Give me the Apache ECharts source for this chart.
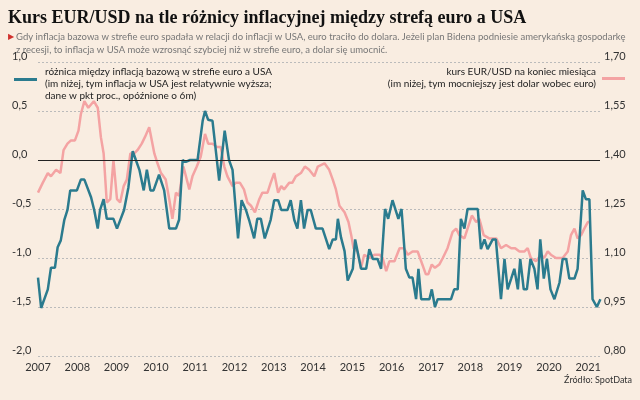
<!DOCTYPE html>
<html><head><meta charset="utf-8">
<script src="https://cdn.jsdelivr.net/npm/echarts@6/dist/echarts.min.js"></script>
<style>html,body{margin:0;background:#f9ede1}#c{width:640px;height:400px}</style>
</head><body><div id="c"></div>
<script>
// różnica inflacji bazowej EA-USA (lewa oś), [rok, wartość]
var inflDiff = [[2007.0,-1.2],[2007.08,-1.51],[2007.25,-1.32],[2007.33,-1.1],[2007.43,-1.1],[2007.5,-0.89],[2007.58,-0.82],[2007.67,-0.61],[2007.75,-0.51],[2007.82,-0.31],[2007.99,-0.31],[2008.09,-0.2],[2008.18,-0.2],[2008.35,-0.38],[2008.43,-0.51],[2008.52,-0.7],[2008.58,-0.51],[2008.67,-0.4],[2008.75,-0.6],[2008.92,-0.6],[2009.01,-0.7],[2009.19,-0.51],[2009.3,-0.28],[2009.41,0.09],[2009.49,0.0],[2009.58,-0.1],[2009.69,-0.31],[2009.77,-0.1],[2009.86,-0.31],[2009.94,-0.31],[2010.08,-0.15],[2010.21,-0.31],[2010.34,-0.7],[2010.51,-0.7],[2010.59,-0.61],[2010.68,0.0],[2010.76,-0.02],[2010.87,0.0],[2011.06,0.0],[2011.19,0.4],[2011.25,0.5],[2011.33,0.41],[2011.44,0.4],[2011.61,-0.21],[2011.75,0.3],[2011.86,0.0],[2011.95,-0.1],[2012.09,-0.8],[2012.18,-0.41],[2012.29,-0.51],[2012.37,-0.61],[2012.5,-0.8],[2012.58,-0.6],[2012.67,-0.6],[2012.77,-0.8],[2012.92,-0.61],[2013.01,-0.41],[2013.11,-0.41],[2013.19,-0.51],[2013.35,-0.51],[2013.43,-0.41],[2013.52,-0.61],[2013.6,-0.7],[2013.69,-0.41],[2013.77,-0.7],[2013.86,-0.51],[2013.94,-0.51],[2014.07,-0.7],[2014.24,-0.7],[2014.33,-0.81],[2014.41,-0.91],[2014.5,-0.81],[2014.58,-0.81],[2014.63,-0.6],[2014.71,-0.79],[2014.8,-0.93],[2014.88,-1.23],[2015.01,-1.11],[2015.07,-0.81],[2015.13,-0.93],[2015.22,-1.11],[2015.35,-1.11],[2015.43,-0.91],[2015.52,-1.01],[2015.64,-1.01],[2015.73,-1.11],[2015.83,-0.5],[2015.91,-0.6],[2016.02,-0.41],[2016.17,-0.6],[2016.25,-0.5],[2016.36,-1.11],[2016.45,-1.2],[2016.53,-1.2],[2016.62,-1.42],[2016.68,-1.11],[2016.75,-1.42],[2016.96,-1.42],[2017.02,-1.32],[2017.1,-1.5],[2017.17,-1.42],[2017.51,-1.42],[2017.59,-1.32],[2017.68,-1.32],[2017.76,-0.6],[2017.85,-0.7],[2017.93,-0.5],[2018.19,-0.5],[2018.27,-0.91],[2018.36,-0.81],[2018.44,-0.91],[2018.57,-0.81],[2018.65,-0.81],[2018.78,-1.42],[2018.87,-1.01],[2018.95,-1.32],[2019.04,-1.21],[2019.12,-1.11],[2019.21,-1.32],[2019.27,-1.01],[2019.36,-1.32],[2019.44,-1.32],[2019.53,-1.01],[2019.63,-1.11],[2019.71,-1.32],[2019.78,-0.81],[2019.87,-1.21],[2019.95,-1.01],[2020.04,-1.32],[2020.14,-1.42],[2020.27,-1.25],[2020.35,-1.01],[2020.44,-1.01],[2020.52,-1.21],[2020.65,-1.21],[2020.73,-1.11],[2020.86,-0.31],[2020.94,-0.4],[2021.03,-0.4],[2021.11,-1.42],[2021.22,-1.5],[2021.31,-1.42]];
// kurs EUR/USD na koniec miesiąca (prawa oś)
var eurusd = [[2007.0,1.30],[2007.12,1.33],[2007.25,1.36],[2007.33,1.35],[2007.46,1.37],[2007.57,1.36],[2007.65,1.43],[2007.75,1.45],[2007.84,1.46],[2007.94,1.46],[2008.03,1.49],[2008.09,1.54],[2008.18,1.58],[2008.28,1.56],[2008.42,1.58],[2008.52,1.56],[2008.6,1.47],[2008.67,1.42],[2008.75,1.27],[2008.84,1.28],[2008.92,1.40],[2009.01,1.28],[2009.09,1.27],[2009.18,1.32],[2009.26,1.34],[2009.35,1.42],[2009.45,1.42],[2009.53,1.43],[2009.64,1.45],[2009.72,1.47],[2009.83,1.50],[2009.96,1.42],[2010.04,1.39],[2010.13,1.36],[2010.25,1.34],[2010.34,1.28],[2010.42,1.22],[2010.51,1.30],[2010.59,1.29],[2010.7,1.38],[2010.85,1.31],[2010.93,1.35],[2011.04,1.38],[2011.14,1.41],[2011.25,1.48],[2011.33,1.45],[2011.44,1.45],[2011.55,1.44],[2011.65,1.44],[2011.74,1.38],[2011.82,1.35],[2011.95,1.32],[2012.03,1.33],[2012.14,1.33],[2012.24,1.31],[2012.33,1.27],[2012.42,1.26],[2012.52,1.24],[2012.63,1.28],[2012.71,1.30],[2012.84,1.30],[2012.92,1.33],[2013.01,1.36],[2013.11,1.30],[2013.19,1.32],[2013.26,1.31],[2013.39,1.33],[2013.47,1.33],[2013.56,1.35],[2013.69,1.36],[2013.79,1.38],[2013.9,1.37],[2014.03,1.35],[2014.12,1.38],[2014.29,1.39],[2014.41,1.37],[2014.5,1.34],[2014.58,1.31],[2014.67,1.26],[2014.8,1.24],[2014.9,1.21],[2014.97,1.17],[2015.03,1.13],[2015.13,1.12],[2015.22,1.07],[2015.30,1.11],[2015.43,1.10],[2015.56,1.11],[2015.69,1.11],[2015.77,1.10],[2015.86,1.06],[2015.94,1.09],[2016.07,1.09],[2016.2,1.13],[2016.31,1.13],[2016.41,1.11],[2016.53,1.12],[2016.66,1.12],[2016.75,1.09],[2016.87,1.05],[2016.93,1.05],[2017.02,1.08],[2017.1,1.07],[2017.21,1.08],[2017.3,1.10],[2017.42,1.13],[2017.55,1.18],[2017.64,1.19],[2017.72,1.17],[2017.85,1.16],[2017.93,1.19],[2018.04,1.23],[2018.15,1.21],[2018.23,1.22],[2018.34,1.17],[2018.48,1.16],[2018.66,1.16],[2018.78,1.13],[2018.91,1.14],[2019.04,1.13],[2019.14,1.13],[2019.25,1.12],[2019.38,1.12],[2019.46,1.13],[2019.54,1.10],[2019.67,1.09],[2019.8,1.11],[2019.88,1.10],[2019.97,1.12],[2020.05,1.11],[2020.18,1.10],[2020.35,1.10],[2020.48,1.12],[2020.56,1.17],[2020.65,1.19],[2020.73,1.16],[2020.82,1.17],[2020.9,1.19],[2020.99,1.21],[2021.06,1.21]];
var yearTicks = [2007,2008,2009,2010,2011,2012,2013,2014,2015,2016,2017,2018,2019,2020,2021];

var chart = echarts.init(document.getElementById('c'));
var fmt = function(d){ return function(v){ return v.toFixed(d).replace('.', ','); }; };
chart.setOption({
  backgroundColor: '#f9ede1',
  animation: false,
  textStyle: {fontFamily: 'Lato'},
  grid: {left: 38, right: 40, top: 62, bottom: 44},
  xAxis: {
    type: 'value', min: 2007, max: 2021.3, interval: 1,
    axisLine: {show: false}, axisTick: {show: false}, splitLine: {show: false},
    axisLabel: {color: '#333', fontSize: 11, margin: 6, showMaxLabel: false,
      formatter: function(v){ return yearTicks.indexOf(v) >= 0 ? String(v) : ''; }}
  },
  yAxis: [
    {type: 'value', min: -2, max: 1, interval: 0.5,
     axisLabel: {color: '#333', fontSize: 11, formatter: fmt(1), align: 'left', margin: 26, verticalAlign: 'bottom'},
     axisLine: {show: false}, axisTick: {show: false},
     splitLine: {lineStyle: {color: '#bbb', type: [2, 2]}}},
    {type: 'value', min: 0.8, max: 1.7, interval: 0.15, position: 'right',
     axisLabel: {color: '#333', fontSize: 11, formatter: fmt(2), margin: 4, verticalAlign: 'bottom'},
     axisLine: {show: false}, axisTick: {show: false}, splitLine: {show: false}}
  ],
  series: [
    {type: 'line', data: eurusd, yAxisIndex: 1, showSymbol: false,
     lineStyle: {color: '#f4a3a3', width: 2.5}, z: 2},
    {type: 'line', data: inflDiff, yAxisIndex: 0, showSymbol: false,
     lineStyle: {color: '#2b7b8e', width: 2.5}, z: 3,
     markLine: {silent: true, symbol: 'none', label: {show: false},
       lineStyle: {color: '#222', type: 'solid', width: 1}, data: [{yAxis: 0}]}}
  ],
  graphic: [
    {type: 'text', left: 8, top: 9, style: {text: 'Kurs EUR/USD na tle różnicy inflacyjnej między strefą euro a USA',
      font: 'bold 18px "Liberation Serif"', fill: '#111'}},
    {type: 'text', left: 8, top: 32, style: {text: '▶', font: '8px Lato', fill: '#d0312d'}},
    {type: 'text', left: 16, top: 30, style: {text: 'Gdy inflacja bazowa w strefie euro spadała w relacji do inflacji w USA, euro traciło do dolara. Jeżeli plan Bidena podniesie amerykańską gospodarkę\nz recesji, to inflacja w USA może wzrosnąć szybciej niż w strefie euro, a dolar się umocnić.',
      font: '9.5px Lato', fill: '#777', lineHeight: 13}},
    {type: 'rect', shape: {x: 14, y: 78, width: 23, height: 3}, style: {fill: '#2b7b8e'}},
    {type: 'text', left: 45, top: 66, style: {text: 'różnica między inflacją bazową w strefie euro a USA\n(im niżej, tym inflacja w USA jest relatywnie wyższa;\ndane w pkt proc., opóźnione o 6m)',
      font: '10px Lato', fill: '#222', lineHeight: 12}},
    {type: 'text', x: 596, y: 66, style: {text: 'kurs EUR/USD na koniec miesiąca\n(im niżej, tym mocniejszy jest dolar wobec euro)',
      font: '10px Lato', fill: '#222', lineHeight: 12, textAlign: 'right'}},
    {type: 'rect', shape: {x: 602, y: 77, width: 23, height: 3}, style: {fill: '#f4a3a3'}},
    {type: 'text', right: 8, top: 376, style: {text: 'Źródło: SpotData', font: '9px Lato', fill: '#333'}}
  ]
});
</script></body></html>
